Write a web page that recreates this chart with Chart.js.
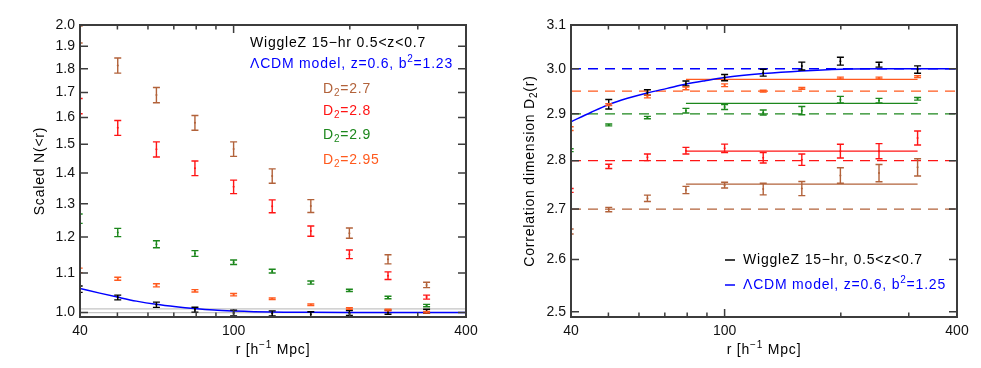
<!DOCTYPE html>
<html>
<head>
<meta charset="utf-8">
<script src="https://cdn.jsdelivr.net/npm/chart.js@4"></script>
<style>
  body { margin: 0; background: #fff; }
  canvas { position: absolute; top: 0; }
  #left { left: 0; }
  #right { left: 490px; }
</style>
</head>
<body>
<canvas id="left" width="490" height="368"></canvas>
<canvas id="right" width="491" height="368"></canvas>
<script>
// separations in h^-1 Mpc (first bin sits just left of the plotted range)
const rBins = [39.8, 50.1, 63.1, 79.4, 100, 125.9, 158.5, 199.5, 251.2, 316.2];
const modelR = [40, 45, 50, 56, 63, 71, 79, 89, 100, 126, 158, 200, 251, 316, 400];

// left panel: scaled N(<r)
const nData = [1.058, 1.037, 1.019, 1.007, 0.999, 0.998, 0.996, 0.999, 1.001, 1.003];
const nDataErr = [0.008, 0.006, 0.0065, 0.006, 0.007, 0.006, 0.006, 0.006, 0.005, 0.005];
const nD27 = [1.955, 1.814, 1.689, 1.580, 1.483, 1.390, 1.293, 1.211, 1.137, 1.069];
const nD27Err = [0.04, 0.033, 0.031, 0.028, 0.026, 0.024, 0.02, 0.015, 0.0125, 0.007];
const nD28 = [1.645, 1.561, 1.482, 1.416, 1.354, 1.292, 1.217, 1.151, 1.093, 1.038];
const nD28Err = [0.03, 0.028, 0.027, 0.025, 0.022, 0.02, 0.015, 0.012, 0.01, 0.005];
const nD29 = [1.254, 1.213, 1.179, 1.153, 1.129, 1.105, 1.075, 1.055, 1.037, 1.017];
const nD29Err = [0.014, 0.012, 0.01, 0.008, 0.006, 0.005, 0.004, 0.003, 0.003, 0.003];
const nD295 = [1.107, 1.085, 1.068, 1.054, 1.044, 1.034, 1.019, 1.010, 1.006, 1.001];
const nD295Err = [0.006, 0.004, 0.004, 0.003, 0.003, 0.002, 0.002, 0.002, 0.002, 0.002];
const nModel = [1.060, 1.048, 1.038, 1.028, 1.020, 1.014, 1.0097, 1.006, 1.004, 1.0015, 1.0008, 1.0003, 1.0001, 1.0, 1.0];
const nGuides = [1.0, 1.009];

// right panel: correlation dimension D2(r)
const dData = [null, 2.921, 2.947, 2.967, 2.980, 2.991, 3.006, 3.017, 3.009, 2.998];
const dDataErr = [0, 0.0105, 0.006, 0.0055, 0.007, 0.0077, 0.0088, 0.009, 0.0055, 0.0084];
const dD27 = [2.655, 2.699, 2.722, 2.739, 2.749, 2.741, 2.742, 2.769, 2.774, 2.786];
const dD27Err = [0.005, 0.0045, 0.0065, 0.0075, 0.006, 0.012, 0.0145, 0.016, 0.018, 0.018];
const dD28 = [2.738, 2.788, 2.807, 2.821, 2.826, 2.806, 2.802, 2.820, 2.820, 2.848];
const dD28Err = [0.004, 0.0045, 0.007, 0.007, 0.009, 0.011, 0.012, 0.0145, 0.016, 0.015];
const dD29 = [2.822, 2.876, 2.892, 2.907, 2.915, 2.903, 2.907, 2.931, 2.929, 2.933];
const dD29Err = [0.003, 0.002, 0.0025, 0.005, 0.0055, 0.0055, 0.009, 0.0073, 0.005, 0.003];
const dD295 = [2.868, 2.920, 2.938, 2.956, 2.963, 2.950, 2.956, 2.979, 2.979, 2.982];
const dD295Err = [0.004, 0.002, 0.003, 0.003, 0.003, 0.002, 0.002, 0.002, 0.002, 0.002];
const dModel = [2.883, 2.903, 2.920, 2.934, 2.946, 2.956, 2.965, 2.973, 2.980, 2.989, 2.995, 2.999, 3.0, 3.0, 3.0];
const dLevels = [3.0, 2.95, 2.9, 2.8, 2.7];        // dashed reference values
const dFits = [2.976, 2.923, 2.820, 2.751];        // solid fits for 2.95, 2.9, 2.8, 2.7
const fitRange = [79.4, 316.2];

// axes
const xTicks = [40, 100, 400];
const xMinor = [50, 60, 70, 80, 90, 200, 300];
const nTicks = [1.0, 1.1, 1.2, 1.3, 1.4, 1.5, 1.6, 1.7, 1.8, 1.9, 2.0];
const dTicks = [2.5, 2.6, 2.7, 2.8, 2.9, 3.0, 3.1];

const BLACK = '#000000', BLUE = '#0000ff', BROWN = '#b2623a',
      RED = '#ff1414', GREEN = '#1c871c', ORANGE = '#ff5a1e';
const FONT = '"Liberation Sans", Arial, Helvetica, sans-serif';

function points(ys, errs, color) {
    return {
        data: rBins.map((r, i) => ({ x: r, y: ys[i], e: errs[i] })),
        errorBars: true,
        borderColor: color,
        backgroundColor: color,
        pointRadius: 1,
        pointBorderWidth: 0,
        showLine: false,
        order: 1
    };
}

function curve(xs, ys, color, width, dash) {
    return {
        data: xs.map((x, i) => ({ x: x, y: ys[i] })),
        showLine: true,
        borderColor: color,
        borderWidth: width,
        borderDash: dash || [],
        pointRadius: 0,
        cubicInterpolationMode: 'monotone',
        order: 5
    };
}

// vertical error bars with caps, from the library scales
const errorBars = {
    id: 'errorBars',
    afterDatasetsDraw(chart) {
        const ctx = chart.ctx, a = chart.chartArea;
        const xs = chart.scales.x, ys = chart.scales.y;
        ctx.save();
        ctx.beginPath();
        ctx.rect(a.left, a.top, a.right - a.left, a.bottom - a.top);
        ctx.clip();
        chart.data.datasets.forEach(ds => {
            if (!ds.errorBars) return;
            ctx.strokeStyle = ds.borderColor;
            ctx.lineWidth = 1.4;
            ds.data.forEach(p => {
                if (p.y === null) return;
                const x = xs.getPixelForValue(p.x);
                const y1 = ys.getPixelForValue(p.y + p.e);
                const y2 = ys.getPixelForValue(p.y - p.e);
                ctx.beginPath();
                ctx.moveTo(x, y1); ctx.lineTo(x, y2);
                ctx.moveTo(x - 3.5, y1); ctx.lineTo(x + 3.5, y1);
                ctx.moveTo(x - 3.5, y2); ctx.lineTo(x + 3.5, y2);
                ctx.stroke();
            });
        });
        ctx.restore();
    }
};

// IDL style box with inward ticks
const frame = {
    id: 'frame',
    afterDraw(chart, args, opts) {
        const ctx = chart.ctx, a = chart.chartArea;
        const xs = chart.scales.x, ys = chart.scales.y;
        ctx.save();
        ctx.strokeStyle = '#3c3c3c';
        ctx.lineWidth = 2;
        ctx.strokeRect(a.left, a.top, a.right - a.left, a.bottom - a.top);
        ctx.lineWidth = 1.5;
        ctx.beginPath();
        const xt = (v, len) => {
            const x = xs.getPixelForValue(v);
            ctx.moveTo(x, a.bottom); ctx.lineTo(x, a.bottom - len);
            ctx.moveTo(x, a.top); ctx.lineTo(x, a.top + len);
        };
        xTicks.forEach(v => xt(v, 8));
        xMinor.forEach(v => xt(v, 4.5));
        opts.yTicks.forEach(v => {
            const y = ys.getPixelForValue(v);
            ctx.moveTo(a.left, y); ctx.lineTo(a.left + 8, y);
            ctx.moveTo(a.right, y); ctx.lineTo(a.right - 8, y);
        });
        ctx.stroke();
        ctx.restore();
    }
};

// text with sub/superscripts: parts = [[text, 'sub'|'sup'|undefined], ...]
function rich(ctx, parts, x, y, color, align) {
    const big = '14px ' + FONT, small = '10px ' + FONT;
    ctx.letterSpacing = '0.8px';
    let w = 0;
    parts.forEach(p => { ctx.font = p[1] ? small : big; w += ctx.measureText(p[0]).width; });
    let cx = align === 'center' ? x - w / 2 : x;
    ctx.fillStyle = color;
    ctx.textAlign = 'left';
    ctx.textBaseline = 'middle';
    parts.forEach(p => {
        ctx.font = p[1] ? small : big;
        const dy = p[1] === 'sub' ? 4 : p[1] === 'sup' ? -5 : 0;
        ctx.fillText(p[0], cx, y + dy);
        cx += ctx.measureText(p[0]).width;
    });
    ctx.letterSpacing = '0px';
}

function rotated(ctx, parts, x, y, color) {
    ctx.save();
    ctx.translate(x, y);
    ctx.rotate(-Math.PI / 2);
    rich(ctx, parts, 0, 0, color, 'center');
    ctx.restore();
}

const xTitle = [['r [h'], ['\u22121', 'sup'], [' Mpc]']];

const textLeft = {
    id: 'textLeft',
    afterDraw(chart) {
        const ctx = chart.ctx, a = chart.chartArea;
        ctx.save();
        rich(ctx, [['WiggleZ 15\u2212hr 0.5<z<0.7']], 250, 43, BLACK);
        rich(ctx, [['\u039BCDM model, z=0.6, b'], ['2', 'sup'], ['=1.23']], 250, 64, BLUE);
        rich(ctx, [['D'], ['2', 'sub'], ['=2.7']], 323, 89, BROWN);
        rich(ctx, [['D'], ['2', 'sub'], ['=2.8']], 323, 111, RED);
        rich(ctx, [['D'], ['2', 'sub'], ['=2.9']], 323, 135, GREEN);
        rich(ctx, [['D'], ['2', 'sub'], ['=2.95']], 323, 160, ORANGE);
        rich(ctx, xTitle, (a.left + a.right) / 2, 350, BLACK, 'center');
        rotated(ctx, [['Scaled N(<r)']], 40, (a.top + a.bottom) / 2, BLACK);
        ctx.restore();
    }
};

const textRight = {
    id: 'textRight',
    afterDraw(chart) {
        const ctx = chart.ctx, a = chart.chartArea;
        ctx.save();
        ctx.lineWidth = 1.5;
        ctx.strokeStyle = BLACK;
        ctx.beginPath(); ctx.moveTo(235, 260); ctx.lineTo(245, 260); ctx.stroke();
        ctx.strokeStyle = BLUE;
        ctx.beginPath(); ctx.moveTo(235, 285); ctx.lineTo(245, 285); ctx.stroke();
        rich(ctx, [['WiggleZ 15\u2212hr, 0.5<z<0.7']], 253, 260, BLACK);
        rich(ctx, [['\u039BCDM model, z=0.6, b'], ['2', 'sup'], ['=1.25']], 253, 285, BLUE);
        rich(ctx, xTitle, (a.left + a.right) / 2, 350, BLACK, 'center');
        rotated(ctx, [['Correlation dimension D'], ['2', 'sub'], ['(r)']], 40, (a.top + a.bottom) / 2, BLACK);
        ctx.restore();
    }
};

function makeScales(yMin, yMax, yTickList, yWidth) {
    const tickFont = { family: FONT, size: 14 };
    return {
        x: {
            type: 'logarithmic', min: 40, max: 400,
            afterBuildTicks: s => { s.ticks = xTicks.map(v => ({ value: v })); },
            afterFit: s => { s.height = 51; },
            grid: { display: false, drawTicks: false },
            border: { display: false },
            ticks: { callback: v => String(v), font: tickFont, color: '#111', padding: 6, maxRotation: 0, autoSkip: false }
        },
        y: {
            type: 'logarithmic', min: yMin, max: yMax,
            afterBuildTicks: s => { s.ticks = yTickList.map(v => ({ value: v })); },
            afterFit: s => { s.width = yWidth; },
            grid: { display: false, drawTicks: false },
            border: { display: false },
            ticks: { callback: v => v.toFixed(1), font: tickFont, color: '#111', padding: 5, autoSkip: false }
        }
    };
}

const common = {
    responsive: false,
    animation: false,
    devicePixelRatio: 1,
    layout: { padding: { top: 25, right: 24, left: 0, bottom: 0 } },
    plugins: { legend: { display: false }, tooltip: { enabled: false } }
};

// left panel
const leftSets = [
    points(nData, nDataErr, BLACK),
    points(nD27, nD27Err, BROWN),
    points(nD28, nD28Err, RED),
    points(nD29, nD29Err, GREEN),
    points(nD295, nD295Err, ORANGE),
    curve(modelR, nModel, BLUE, 1.5),
    curve([40, 400], [nGuides[0], nGuides[0]], '#c4c4c4', 1.2),
    curve([40, 400], [nGuides[1], nGuides[1]], '#c4c4c4', 1.2)
];
leftSets[5].order = 2;

new Chart(document.getElementById('left'), {
    type: 'scatter',
    data: { datasets: leftSets },
    options: Object.assign({}, common, {
        scales: makeScales(0.9894, 2.0, nTicks, 80),
        plugins: Object.assign({}, common.plugins, { frame: { yTicks: nTicks } })
    }),
    plugins: [errorBars, frame, textLeft]
});

// right panel
const levelColors = [BLUE, ORANGE, GREEN, RED, BROWN];
const fitColors = [ORANGE, GREEN, RED, BROWN];
const rightSets = [
    points(dData, dDataErr, BLACK),
    points(dD27, dD27Err, BROWN),
    points(dD28, dD28Err, RED),
    points(dD29, dD29Err, GREEN),
    points(dD295, dD295Err, ORANGE)
];
const model = curve(modelR, dModel, BLUE, 1.5);
model.order = 2;
rightSets.push(model);
dFits.forEach((v, i) => {
    const s = curve(fitRange, [v, v], fitColors[i], 1.4);
    s.order = 3;
    rightSets.push(s);
});
dLevels.forEach((v, i) => {
    const s = curve([40, 400], [v, v], levelColors[i], 1.4, [10, 7]);
    s.order = 4;
    rightSets.push(s);
});

new Chart(document.getElementById('right'), {
    type: 'scatter',
    data: { datasets: rightSets },
    options: Object.assign({}, common, {
        scales: makeScales(2.494, 3.1, dTicks, 81),
        plugins: Object.assign({}, common.plugins, { frame: { yTicks: dTicks } })
    }),
    plugins: [errorBars, frame, textRight]
});
</script>
</body>
</html>
